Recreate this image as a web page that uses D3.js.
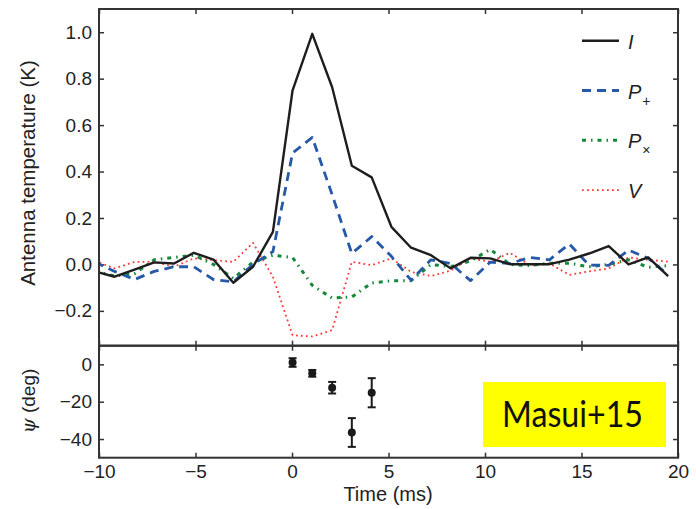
<!DOCTYPE html>
<html>
<head>
<meta charset="utf-8">
<script src="https://cdn.jsdelivr.net/npm/d3@7"></script>
<style>
  body { margin: 0; background: #fff; }
  svg { display: block; font-family: "Liberation Sans", Arial, sans-serif; }
  .tick text { font-family: "Liberation Sans", Arial, sans-serif; font-size: 19px; fill: #222; }
  .tick line { stroke: #333; stroke-width: 1.5; }
</style>
</head>
<body>
<svg width="696" height="509"></svg>
<script>
// sample times (ms)
var times = [-10.21, -9.19, -8.16, -7.14, -6.11, -5.09, -4.07, -3.04, -2.02, -0.99,
             0.03, 1.05, 2.08, 3.10, 4.13, 5.15, 6.17, 7.20, 8.22, 9.25,
             10.27, 11.29, 12.32, 13.34, 14.37, 15.39, 16.41, 17.44, 18.46, 19.49];
var stokesI = [-0.03, -0.053, -0.022, 0.009, 0.004, 0.05, 0.021, -0.079, -0.01, 0.14,
               0.75, 0.993, 0.763, 0.425, 0.375, 0.162, 0.072, 0.04, -0.017, 0.029,
               0.026, 0.001, 0.001, 0.001, 0.021, 0.047, 0.079, 0.0, 0.03, -0.05];
var pPlus = [0.01, -0.03, -0.065, -0.03, -0.01, -0.01, -0.065, -0.075, 0.0, 0.055,
             0.48, 0.547, 0.30, 0.047, 0.12, 0.035, -0.068, 0.02, 0.004, -0.07,
             0.01, 0.004, 0.03, 0.02, 0.088, -0.003, -0.004, 0.062, 0.026, -0.045];
var pCross = [-0.03, -0.05, -0.04, 0.02, 0.03, 0.04, 0.0, -0.06, 0.01, 0.04,
              0.03, -0.09, -0.145, -0.14, -0.08, -0.07, -0.07, 0.0, -0.01, 0.015,
              0.065, 0.0, -0.005, 0.005, 0.005, -0.01, 0.0, 0.02, -0.012, -0.005];
var stokesV = [0.015, -0.017, 0.011, 0.011, -0.01, 0.026, 0.019, 0.011, 0.093, -0.053,
               -0.305, -0.31, -0.283, 0.011, -0.003, 0.026, -0.032, -0.05, -0.027, 0.026,
               0.011, 0.05, -0.003, 0.004, -0.045, -0.03, -0.017, 0.03, 0.02, 0.012];

// position angle
var psiTimes = [0.03, 1.05, 2.08, 3.10, 4.13];
var psiValues = [1.0, -4.8, -12.5, -36.5, -15.2];
var psiErrors = [2.3, 1.8, 3.1, 7.7, 7.8];

var xTicks = [-10, -5, 0, 5, 10, 15, 20];
var yTicksTop = [-0.2, 0.0, 0.2, 0.4, 0.6, 0.8, 1.0];
var yTicksBottom = [-40, -20, 0];

var series = [
  {name: "I", sub: null, values: stokesI, color: "#1e1e1e", width: 2.4, dash: null},
  {name: "P", sub: "+", values: pPlus, color: "#2659a8", width: 2.8, dash: "9,6"},
  {name: "P", sub: "\u00d7", values: pCross, color: "#17873a", width: 3, dash: "4,5,1.5,5"},
  {name: "V", sub: null, values: stokesV, color: "#ff3838", width: 1.8, dash: "1.8,3.2"}
];

var svg = d3.select("svg");
var left = 99, right = 678,
    top1 = 9, bot1 = 345.7, bot2 = 457.7;
var width = right - left;

var x = d3.scaleLinear().domain([-10, 20]).range([left, right]);
var y = d3.scaleLinear().domain([-0.35, 1.1]).range([bot1, top1]);
var y2 = d3.scaleLinear().domain([-50, 10]).range([bot2, bot1]);

var minus = function(v, f) { return d3.format(f)(v).replace("-", "\u2212"); };

// clip for the top panel
svg.append("clipPath").attr("id", "clipTop")
  .append("rect").attr("x", left).attr("y", top1).attr("width", width).attr("height", bot1 - top1);

// ---- top panel axes
function noDomain(g) { g.select(".domain").remove(); }

svg.append("g").attr("transform", "translate(" + left + ",0)")
  .call(d3.axisLeft(y).tickValues(yTicksTop).tickSize(-5).tickPadding(7)
    .tickFormat(function(d) { return minus(d, ".1f"); }))
  .call(noDomain);
svg.append("g").attr("transform", "translate(" + right + ",0)")
  .call(d3.axisRight(y).tickValues(yTicksTop).tickSize(-5).tickFormat(""))
  .call(noDomain);
svg.append("g").attr("transform", "translate(0," + top1 + ")")
  .call(d3.axisTop(x).tickValues(xTicks).tickSize(-5).tickFormat(""))
  .call(noDomain);
svg.append("g").attr("transform", "translate(0," + bot1 + ")")
  .call(d3.axisBottom(x).tickValues(xTicks).tickSize(5).tickFormat(""))
  .call(noDomain);

// ---- bottom panel axes
svg.append("g").attr("transform", "translate(" + left + ",0)")
  .call(d3.axisLeft(y2).tickValues(yTicksBottom).tickSize(-5).tickPadding(7)
    .tickFormat(function(d) { return minus(d, "d"); }))
  .call(noDomain);
svg.append("g").attr("transform", "translate(" + right + ",0)")
  .call(d3.axisRight(y2).tickValues(yTicksBottom).tickSize(-5).tickFormat(""))
  .call(noDomain);
svg.append("g").attr("transform", "translate(0," + bot1 + ")")
  .call(d3.axisBottom(x).tickValues(xTicks).tickSize(-5).tickFormat(""))
  .call(noDomain);
svg.append("g").attr("transform", "translate(0," + bot2 + ")")
  .call(d3.axisBottom(x).tickValues(xTicks).tickSize(-5).tickPadding(7)
    .tickFormat(function(d) { return minus(d, "d"); }))
  .call(noDomain);

// ---- lines
var line = d3.line()
  .x(function(d, i) { return x(times[i]); })
  .y(function(d) { return y(d); });

svg.append("g").attr("clip-path", "url(#clipTop)")
  .selectAll("path.series")
  .data(series.slice().reverse())
  .enter().append("path")
  .attr("class", "series")
  .attr("d", function(d) { return line(d.values); })
  .attr("fill", "none")
  .attr("stroke", function(d) { return d.color; })
  .attr("stroke-width", function(d) { return d.width; })
  .attr("stroke-dasharray", function(d) { return d.dash; })
  .attr("stroke-linejoin", "round");

// ---- psi points
var pts = svg.append("g");
psiTimes.forEach(function(t, i) {
  var cx = x(t), lo = y2(psiValues[i] - psiErrors[i]), hi = y2(psiValues[i] + psiErrors[i]);
  pts.append("line").attr("x1", cx).attr("x2", cx).attr("y1", lo).attr("y2", hi)
    .attr("stroke", "#1a1a1a").attr("stroke-width", 2);
  [lo, hi].forEach(function(yy) {
    pts.append("line").attr("x1", cx - 4).attr("x2", cx + 4).attr("y1", yy).attr("y2", yy)
      .attr("stroke", "#1a1a1a").attr("stroke-width", 2);
  });
  pts.append("circle").attr("cx", cx).attr("cy", y2(psiValues[i])).attr("r", 4)
    .attr("fill", "#1a1a1a");
});

// ---- frames
svg.append("rect").attr("x", left).attr("y", top1).attr("width", width).attr("height", bot1 - top1)
  .attr("fill", "none").attr("stroke", "#333").attr("stroke-width", 2);
svg.append("rect").attr("x", left).attr("y", bot1).attr("width", width).attr("height", bot2 - bot1)
  .attr("fill", "none").attr("stroke", "#333").attr("stroke-width", 2);

// ---- legend
var leg = svg.append("g");
series.forEach(function(s, i) {
  var ly = 40.7 + i * 49.8;
  leg.append("line").attr("x1", 582).attr("x2", 619).attr("y1", ly).attr("y2", ly)
    .attr("stroke", s.color).attr("stroke-width", s.width).attr("stroke-dasharray", s.dash);
  var t = leg.append("text").attr("x", 628).attr("y", ly + 8)
    .style("font-size", "20px").style("font-style", "italic").attr("fill", "#222")
    .text(s.name);
  if (s.sub) {
    t.append("tspan").attr("dx", 1).attr("dy", 7).style("font-size", "14px")
      .style("font-style", "normal").text(s.sub);
  }
});

// ---- axis titles
svg.append("text").attr("transform", "translate(35,173) rotate(-90)")
  .attr("text-anchor", "middle").style("font-size", "20.5px").attr("fill", "#222")
  .text("Antenna temperature (K)");
var psiLab = svg.append("text").attr("transform", "translate(35,401) rotate(-90)")
  .attr("text-anchor", "middle").style("font-size", "19px").attr("fill", "#222");
psiLab.append("tspan").style("font-family", "'DejaVu Serif', serif").style("font-style", "italic").text("\u03c8");
psiLab.append("tspan").text(" (deg)");
svg.append("text").attr("x", 388).attr("y", 501)
  .attr("text-anchor", "middle").style("font-size", "20px").attr("fill", "#222")
  .text("Time (ms)");

// ---- label box
svg.append("rect").attr("x", 483).attr("y", 382).attr("width", 183).attr("height", 65)
  .attr("fill", "#ffff00");
svg.append("text").attr("x", 502).attr("y", 427)
  .attr("textLength", 141).attr("lengthAdjust", "spacingAndGlyphs")
  .style("font-family", "Lato, 'Open Sans', sans-serif").style("font-size", "37px").attr("fill", "#111")
  .text("Masui+15");
</script>
</body>
</html>
